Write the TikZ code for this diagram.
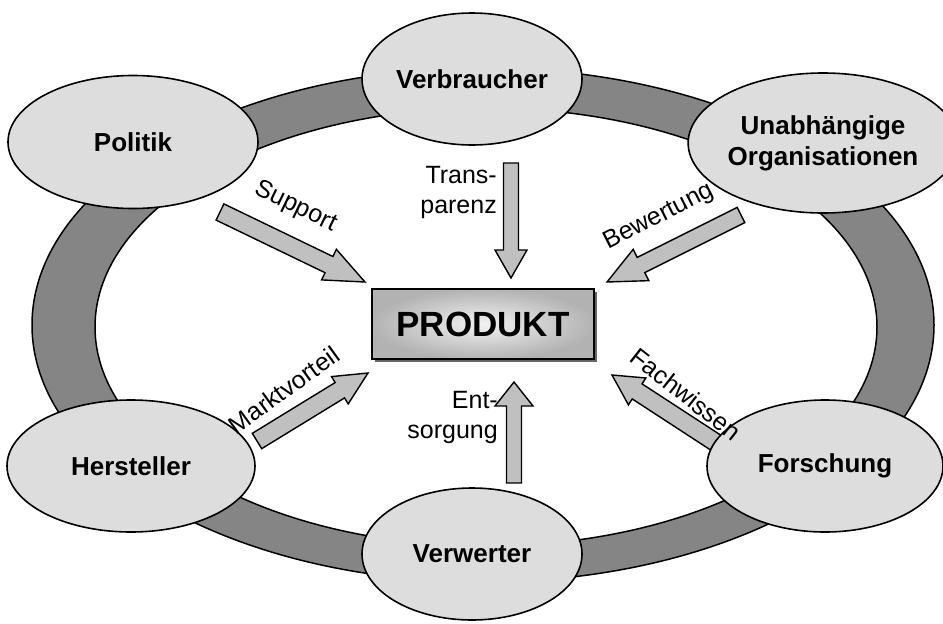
\documentclass[tikz,border=0pt]{standalone}
\usepackage{fontspec}
\setmainfont{Liberation Sans}
\usetikzlibrary{shapes.geometric,calc}

\definecolor{ringgray}{HTML}{858585}
\definecolor{bubble}{HTML}{DDDDDD}
\definecolor{arrowfill}{HTML}{C0C0C0}

% block arrow: tail, tip, half shaft width, head length, half head width
\newcommand{\blockarrow}[5]{%
  \coordinate (#2-neck) at ($(#2)!#4!(#1)$);
  \draw[arrowbody]
    ($(#1)!#3!90:(#2)$) -- ($(#2-neck)!#3!90:(#2)$) -- ($(#2-neck)!#5!90:(#2)$)
    -- (#2)
    -- ($(#2-neck)!#5!-90:(#2)$) -- ($(#2-neck)!#3!-90:(#2)$) -- ($(#1)!#3!-90:(#2)$)
    -- cycle;
}

\tikzset{
  actor/.style={ellipse, draw, line width=1.6pt, fill=bubble, inner sep=0pt,
    font=\fontsize{26}{31}\selectfont\bfseries, align=center},
  arrowbody/.style={draw, line width=1.4pt, fill=arrowfill, line join=miter},
  flowlabel/.style={inner sep=0pt, font=\fontsize{25}{30}\selectfont},
}

\begin{document}
\begin{tikzpicture}[x=1pt, y=-1pt]
  \useasboundingbox (0,0) rectangle (943,624);

  % the ring joining all parties
  \draw[line width=1.5pt, fill=ringgray, even odd rule]
    (483,325) ellipse [x radius=451pt, y radius=257pt]
    (486,327) ellipse [x radius=391pt, y radius=219pt];

  % product in the middle
  \fill[black!60] (375,292) rectangle (597,362);
  \draw[line width=1.6pt, inner color=white!95!black, outer color=black!30]
    (372,289) rectangle (594,359);
  \node (produkt) at (483,324) {\fontsize{35}{40}\selectfont\bfseries PRODUKT};

  % arrow end points
  \coordinate (supT) at (220,212);  \coordinate (supP) at (365,282);
  \coordinate (traT) at (511,163);  \coordinate (traP) at (511,278);
  \coordinate (bewT) at (741,215);  \coordinate (bewP) at (607,282);
  \coordinate (marT) at (257,441);  \coordinate (marP) at (368,373);
  \coordinate (facT) at (724,448);  \coordinate (facP) at (612,375);
  \coordinate (entT) at (514,483);  \coordinate (entP) at (514,382);

  \blockarrow{supT}{supP}{9pt}{40pt}{17pt}
  \blockarrow{traT}{traP}{7.5pt}{28pt}{16pt}
  \blockarrow{bewT}{bewP}{8.5pt}{38pt}{17.5pt}
  \blockarrow{marT}{marP}{9pt}{33pt}{16pt}
  \blockarrow{facT}{facP}{9pt}{30pt}{16pt}
  \blockarrow{entT}{entP}{7.5pt}{24pt}{19pt}

  % parties
  \node[actor, minimum width=250pt, minimum height=133pt] (politik) at (133,142) {Politik};
  \node[actor, minimum width=220pt, minimum height=132pt] (verbraucher) at (472,79) {Verbraucher};
  \node[actor, minimum width=236pt, minimum height=140pt] (org) at (823,143) {Unabhängige\\Organisationen};
  \node[actor, minimum width=248pt, minimum height=132pt] (hersteller) at (131,466) {Hersteller};
  \node[actor, minimum width=220pt, minimum height=132pt] (verwerter) at (472,554) {Verwerter};
  \node[actor, minimum width=236pt, minimum height=132pt] (forschung) at (825,466) {Forschung};

  % arrow labels
  \node[flowlabel, rotate=-26] (lsup) at (296,207) {Support};
  \node[flowlabel, align=right, anchor=east] (ltra) at (497,192) {Trans-\\parenz};
  \node[flowlabel, rotate=27] (lbew) at (659,217) {Bewertung};
  \node[flowlabel, rotate=36] (lmar) at (284,390) {Marktvorteil};
  \node[flowlabel, rotate=-38] (lfac) at (686,394) {Fachwissen};
  \node[flowlabel, align=right, anchor=east] (lent) at (498,417) {Ent-\\sorgung};
\end{tikzpicture}
\end{document}
